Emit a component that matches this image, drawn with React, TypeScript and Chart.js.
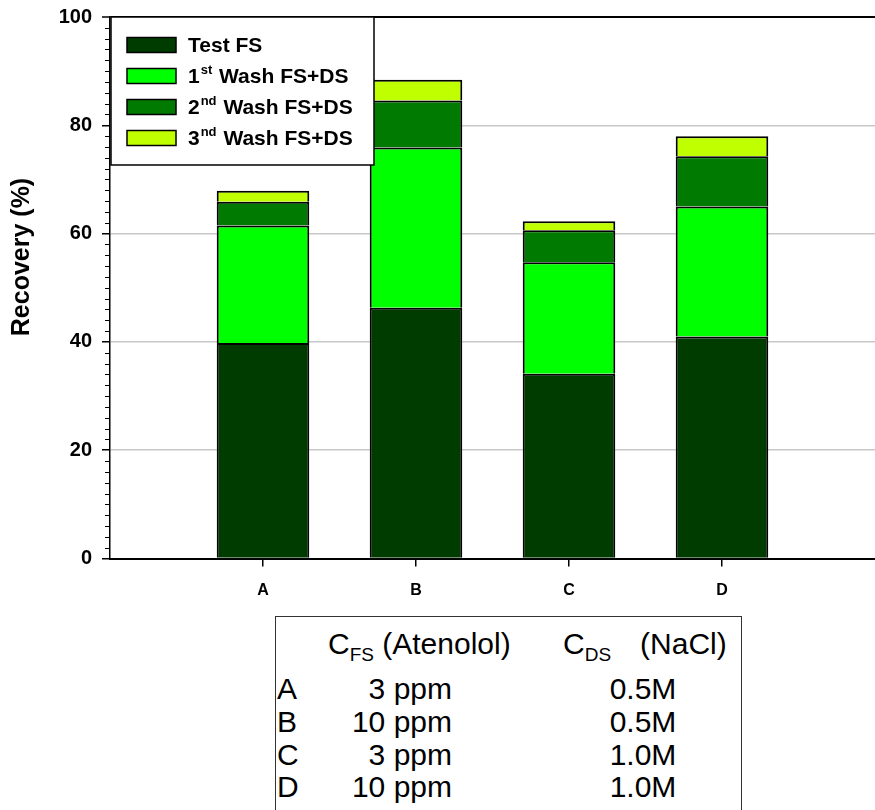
import React, { useEffect, useRef } from 'react';
import { Chart, registerables } from 'chart.js';

Chart.register(...registerables);

// ---- data ----
const categories = ['A', 'B', 'C', 'D'];
const categoryPositions = [1, 2, 3, 4];
const testFS = [39.8, 46.3, 34.1, 41.0];
const wash1 = [21.7, 29.6, 20.6, 24.0];
const wash2 = [4.4, 8.7, 5.9, 9.3];
const wash3 = [2.0, 3.8, 1.7, 3.7];
const seriesValues = [testFS, wash1, wash2, wash3];
const seriesLabels = ['Test FS', '1st Wash FS+DS', '2nd Wash FS+DS', '3nd Wash FS+DS'];
// legend text pieces: [base, superscript, rest]
const legendPieces: [string, string, string][] = [
  ['Test FS', '', ''],
  ['1', 'st', ' Wash FS+DS'],
  ['2', 'nd', ' Wash FS+DS'],
  ['3', 'nd', ' Wash FS+DS'],
];
const seriesColors = ['#003c00', '#00ff00', '#007a00', '#c0ff00'];
const yTicks = [0, 20, 40, 60, 80, 100];
const yMinorStep = 2;
const yTitle = 'Recovery (%)';

const tableLetters = ['A', 'B', 'C', 'D'];
const tableCFS = ['3 ppm', '10 ppm', '3 ppm', '10 ppm'];
const tableCDS = ['0.5M', '0.5M', '1.0M', '1.0M'];

const FONT = 'Arial, "Liberation Sans", Helvetica, sans-serif';

export default function App() {
  const ref = useRef<HTMLCanvasElement | null>(null);

  useEffect(() => {
    document.documentElement.style.overflow = 'hidden';
    document.body.style.margin = '8px 0 0 8px';
    const root = document.getElementById('root');
    if (root) {
      root.style.width = '867px';
      root.style.overflow = 'visible';
    }
    if (!ref.current) return;

    const extras = {
      id: 'extras',
      afterDatasetsDraw(chart: any) {
        const ctx = chart.ctx;
        const area = chart.chartArea;
        const y = chart.scales.y;
        ctx.save();
        // minor ticks
        ctx.strokeStyle = '#000';
        ctx.lineWidth = 1;
        for (let v = 0; v <= 100; v += yMinorStep) {
          if (v % 20 === 0) continue;
          const py = Math.round(y.getPixelForValue(v)) + 0.5;
          ctx.beginPath();
          ctx.moveTo(area.left - 5, py);
          ctx.lineTo(area.left, py);
          ctx.stroke();
        }
        // y title
        ctx.save();
        ctx.translate(14, 249);
        ctx.rotate(-Math.PI / 2);
        ctx.fillStyle = '#000';
        ctx.font = `bold 25px ${FONT}`;
        ctx.textAlign = 'center';
        ctx.textBaseline = 'middle';
        ctx.fillText(yTitle, 0, 0);
        ctx.restore();

        // legend box
        const bx = area.left + 1;
        const by = area.top;
        const bw = 263;
        const bh = 148;
        ctx.fillStyle = '#fff';
        ctx.fillRect(bx, by, bw, bh);
        ctx.strokeStyle = '#000';
        ctx.lineWidth = 1.5;
        ctx.strokeRect(bx, by, bw, bh);
        legendPieces.forEach((p, i) => {
          const cy = by + 28 + i * 31;
          ctx.fillStyle = seriesColors[i];
          ctx.fillRect(bx + 16, cy - 7.5, 49, 15);
          ctx.strokeStyle = '#000';
          ctx.lineWidth = 1.5;
          ctx.strokeRect(bx + 16, cy - 7.5, 49, 15);
          ctx.fillStyle = '#000';
          ctx.textBaseline = 'middle';
          ctx.textAlign = 'left';
          let tx = bx + 77;
          ctx.font = `bold 21px ${FONT}`;
          ctx.fillText(p[0], tx, cy + 1);
          tx += ctx.measureText(p[0]).width;
          if (p[1]) {
            ctx.font = `bold 13px ${FONT}`;
            ctx.fillText(p[1], tx + 1, cy - 6);
            tx += ctx.measureText(p[1]).width + 2;
            ctx.font = `bold 21px ${FONT}`;
            ctx.fillText(p[2], tx, cy + 1);
          }
        });
        ctx.restore();
      },
    };

    const chart = new Chart(ref.current, {
      type: 'bar',
      data: {
        datasets: seriesValues.map((vals, k) => ({
          label: seriesLabels[k],
          data: categoryPositions.map((x, i) => ({ x, y: vals[i] })),
          backgroundColor: seriesColors[k],
          borderColor: '#000',
          borderWidth: 2,
          borderSkipped: 'start',
          barPercentage: 0.605,
          categoryPercentage: 1,
        })),
      },
      options: {
        responsive: false,
        animation: false,
        devicePixelRatio: 1,
        layout: { padding: { top: 9, right: 0, left: 0, bottom: 0 } },
        plugins: { legend: { display: false }, tooltip: { enabled: false } },
        scales: {
          x: {
            type: 'linear',
            min: 0,
            max: 5,
            offset: false,
            stacked: true,
            afterBuildTicks: (s: any) => {
              s.ticks = categoryPositions.map((v) => ({ value: v }));
            },
            afterFit: (s: any) => {
              s.height = 49.5;
              s.paddingLeft = 0;
              s.paddingRight = 0;
            },
            ticks: {
              autoSkip: false,
              maxRotation: 0,
              padding: 14,
              color: '#000',
              font: { family: FONT, size: 16, weight: 'bold' },
              callback: (v: any) => {
                const i = categoryPositions.indexOf(Number(v));
                return i >= 0 ? categories[i] : '';
              },
            },
            grid: {
              offset: false,
              drawOnChartArea: false,
              tickLength: 8,
              tickColor: '#000',
              lineWidth: 1.5,
            },
            border: { color: '#000', width: 2 },
          },
          y: {
            min: 0,
            max: 100,
            stacked: true,
            afterBuildTicks: (s: any) => {
              s.ticks = yTicks.map((v) => ({ value: v }));
            },
            afterFit: (s: any) => {
              s.width = 102;
              s.paddingTop = 0;
              s.paddingBottom = 0;
            },
            ticks: {
              padding: 10,
              color: '#000',
              font: { family: FONT, size: 20, weight: 'bold' },
            },
            grid: {
              color: (c: any) =>
                c.tick && c.tick.value === 100 ? '#000' : c.tick && c.tick.value === 0 ? 'rgba(0,0,0,0)' : '#c8c8c8',
              lineWidth: (c: any) => (c.tick && c.tick.value === 100 ? 2 : 1.5),
              tickLength: 8,
              tickColor: '#000',
              tickWidth: 1.5,
            },
            border: { color: '#000', width: 1.5 },
          },
        },
      },
      plugins: [extras],
    } as any);
    return () => chart.destroy();
  }, []);

  const rowTop = (i: number) => 689 - 8 - 16 + i * 32.8;
  const cell = { position: 'absolute' as const, fontSize: 30, lineHeight: '32px', whiteSpace: 'nowrap' as const };
  const sub = { fontSize: 19, verticalAlign: '-7px' };

  return (
    <div style={{ position: 'relative', width: 867, height: 802, fontFamily: FONT }}>
      <canvas ref={ref} width={867} height={600} style={{ display: 'block' }} />
      <div
        style={{
          position: 'absolute',
          left: 267,
          top: 608,
          width: 467,
          height: 194,
          borderLeft: '1.5px solid #333',
          borderTop: '1.5px solid #333',
          borderRight: '1.5px solid #333',
          boxSizing: 'border-box',
        }}
      />
      <div style={{ ...cell, left: 320, top: 644 - 8 - 16 }}>
        C<sub style={sub}>FS</sub> (Atenolol)
      </div>
      <div style={{ ...cell, left: 555, top: 644 - 8 - 16 }}>
        C<sub style={sub}>DS</sub>
        <span style={{ marginLeft: 29 }}>(NaCl)</span>
      </div>
      {tableLetters.map((l, i) => (
        <React.Fragment key={l}>
          <div style={{ ...cell, left: 269, top: rowTop(i) }}>{l}</div>
          <div style={{ ...cell, left: 300, width: 144, textAlign: 'right', top: rowTop(i) }}>{tableCFS[i]}</div>
          <div style={{ ...cell, left: 575, width: 120, textAlign: 'center', top: rowTop(i) }}>{tableCDS[i]}</div>
        </React.Fragment>
      ))}
    </div>
  );
}
